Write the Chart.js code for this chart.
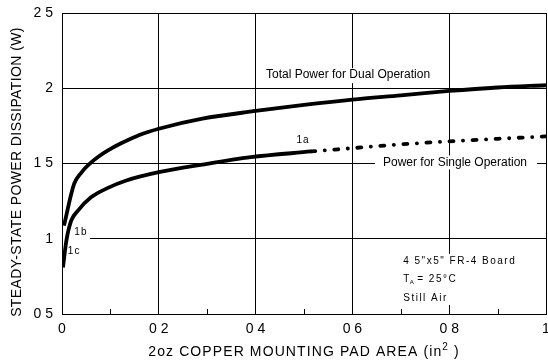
<!DOCTYPE html>
<html>
<head>
<meta charset="utf-8">
<style>
  html, body { margin: 0; padding: 0; background: #fff; }
  #wrap { width: 548px; height: 362px; }
</style>
<script src="https://cdn.jsdelivr.net/npm/chart.js@4/dist/chart.umd.min.js"></script>
</head>
<body>
<div id="wrap"><canvas id="c" width="548" height="362"></canvas></div>
<script>
// Copper pad area (in^2) and steady-state power dissipation (W)
const dualArea  = [0.004, 0.025, 0.04, 0.057, 0.075, 0.095, 0.12, 0.16, 0.2, 0.29, 0.4, 0.5, 0.6, 0.7, 0.8, 0.9, 1.0];
const dualPower = [1.087, 1.364, 1.44, 1.498, 1.545, 1.587, 1.631, 1.69, 1.731, 1.798, 1.849, 1.89, 1.925, 1.953, 1.982, 2.005, 2.02];

const singleArea  = [0.002, 0.009, 0.019, 0.033, 0.06, 0.095, 0.133, 0.2, 0.29, 0.39, 0.515];
const singlePower = [0.809, 0.987, 1.12, 1.187, 1.275, 1.338, 1.387, 1.442, 1.493, 1.542, 1.58];

const singleExtArea  = [0.515, 0.6, 0.7, 0.8, 0.9, 1.0];
const singleExtPower = [1.58, 1.602, 1.627, 1.647, 1.664, 1.68];

const xTicks = [0, 0.2, 0.4, 0.6, 0.8, 1];
const xTickLabels = ['0', '0 2', '0 4', '0 6', '0 8', '1'];
const xMinorTicks = [0.1, 0.3, 0.5, 0.7, 0.9];
const yTicks = [0.5, 1, 1.5, 2, 2.5];
const yTickLabels = ['0 5', '1', '1 5', '2', '2 5'];

const xTitle = '2oz COPPER MOUNTING PAD AREA (in';
const yTitle = 'STEADY-STATE POWER DISSIPATION (W)';
const dualLabel = 'Total Power for Dual Operation';
const singleLabel = 'Power for Single Operation';
const boardNotes = ['4 5"x5" FR-4 Board', '= 25\u00B0C', 'Still Air'];

const FONT = '"Liberation Sans", Arial, Helvetica, sans-serif';

const pts = (xs, ys) => xs.map((x, i) => ({ x: x, y: ys[i] }));
const labelFor = (vals, labels) => (value) => {
  const i = vals.findIndex(t => Math.abs(t - value) < 1e-9);
  return i >= 0 ? labels[i] : '';
};

function whiteBox(ctx, x0, y0, x1, y1) {
  ctx.fillStyle = '#fff';
  ctx.fillRect(x0, y0, x1 - x0, y1 - y0);
}

// Annotations, label backdrops, minor ticks and axis titles
const decorations = {
  id: 'decorations',
  beforeDatasetsDraw(chart) {
    const { ctx, scales: { x, y } } = chart;
    ctx.save();
    // backdrops that hide the grid behind the labels
    const dx = x.getPixelForValue(0.591), dy = y.getPixelForValue(2.087);
    whiteBox(ctx, dx - 88, dy - 7, dx + 88, dy + 8);
    const sx = x.getPixelForValue(0.812), sy = y.getPixelForValue(1.507);
    whiteBox(ctx, sx - 80, sy - 7, sx + 82, sy + 7);
    whiteBox(ctx, x.left + 1, y.getPixelForValue(1.03), x.getPixelForValue(0.058), y.getPixelForValue(0.97));
    const bx = x.getPixelForValue(0.705);
    whiteBox(ctx, bx - 4, y.getPixelForValue(0.9), bx + 120, y.getPixelForValue(0.56));
    // minor ticks along the bottom axis
    ctx.strokeStyle = '#000';
    ctx.lineWidth = 1;
    ctx.beginPath();
    xMinorTicks.forEach(v => {
      const px = Math.round(x.getPixelForValue(v)) + 0.5;
      ctx.moveTo(px, y.bottom);
      ctx.lineTo(px, y.bottom - 5);
    });
    ctx.stroke();
    ctx.restore();
  },
  afterDatasetsDraw(chart) {
    const { ctx, scales: { x, y } } = chart;
    ctx.save();
    ctx.fillStyle = '#000';
    ctx.textBaseline = 'middle';

    ctx.font = '12px ' + FONT;
    ctx.textAlign = 'center';
    ctx.fillText(dualLabel, x.getPixelForValue(0.591), y.getPixelForValue(2.087));
    ctx.fillText(singleLabel, x.getPixelForValue(0.812), y.getPixelForValue(1.507));

    ctx.font = '10px ' + FONT;
    ctx.letterSpacing = '1px';
    ctx.fillText('1a', x.getPixelForValue(0.498), y.getPixelForValue(1.653));
    ctx.fillText('1b', x.getPixelForValue(0.039), y.getPixelForValue(1.04));
    ctx.fillText('1c', x.getPixelForValue(0.025), y.getPixelForValue(0.92));

    // board conditions
    ctx.textAlign = 'left';
    ctx.letterSpacing = '1.5px';
    const bx = x.getPixelForValue(0.705);
    ctx.fillText(boardNotes[0], bx, y.getPixelForValue(0.853));
    const ty = y.getPixelForValue(0.733);
    ctx.fillText('T', bx, ty);
    const tw = ctx.measureText('T').width;
    ctx.font = '6px ' + FONT;
    ctx.letterSpacing = '0px';
    ctx.fillText('A', bx + tw - 1, ty + 3);
    ctx.font = '10px ' + FONT;
    ctx.letterSpacing = '1.5px';
    ctx.fillText(boardNotes[1], bx + 14, ty);
    ctx.fillText(boardNotes[2], bx, y.getPixelForValue(0.607));

    // x axis title with superscript
    ctx.font = '14px ' + FONT;
    ctx.letterSpacing = '1.1px';
    const w1 = ctx.measureText(xTitle).width;
    ctx.font = '10px ' + FONT;
    const w2 = ctx.measureText('2').width;
    ctx.font = '14px ' + FONT;
    const w3 = ctx.measureText(' )').width;
    const total = w1 + w2 + w3;
    let tx = (x.left + x.right) / 2 - total / 2;
    const titleY = 352;
    ctx.fillText(xTitle, tx, titleY);
    tx += w1;
    ctx.font = '10px ' + FONT;
    ctx.fillText('2', tx, titleY - 5);
    tx += w2;
    ctx.font = '14px ' + FONT;
    ctx.fillText(' )', tx, titleY);

    // y axis title
    ctx.translate(17, 172);
    ctx.rotate(-Math.PI / 2);
    ctx.textAlign = 'center';
    ctx.letterSpacing = '0.4px';
    ctx.fillText(yTitle, 0, 0);
    ctx.restore();
  }
};

const lineStyle = {
  borderColor: '#000',
  backgroundColor: '#000',
  borderWidth: 3.8,
  pointRadius: 0,
  fill: false,
  cubicInterpolationMode: 'monotone'
};

new Chart(document.getElementById('c'), {
  type: 'line',
  data: {
    datasets: [
      Object.assign({ label: 'Total Power for Dual Operation', data: pts(dualArea, dualPower) }, lineStyle),
      Object.assign({ label: 'Power for Single Operation', data: pts(singleArea, singlePower) }, lineStyle),
      Object.assign({ label: 'Power for Single Operation (extended)', data: pts(singleExtArea, singleExtPower),
        borderDash: [4, 9.5, 0.1, 9.5], borderCapStyle: 'round' }, lineStyle)
    ]
  },
  options: {
    responsive: false,
    animation: false,
    devicePixelRatio: 1,
    layout: { padding: { top: 13, right: 2, left: 0, bottom: 0 } },
    plugins: { legend: { display: false }, tooltip: { enabled: false } },
    scales: {
      x: {
        type: 'linear',
        min: 0, max: 1,
        afterBuildTicks: (s) => { s.ticks = xTicks.map(v => ({ value: v })); },
        afterFit: (s) => { s.height = 48; s.paddingLeft = 0; s.paddingRight = 0; },
        grid: { color: '#000', lineWidth: 1, drawTicks: false, tickLength: 0 },
        border: { display: true, color: '#000', width: 1 },
        ticks: {
          autoSkip: false, maxRotation: 0, padding: 7, color: '#000',
          font: { family: FONT, size: 14 },
          callback: labelFor(xTicks, xTickLabels)
        }
      },
      y: {
        type: 'linear',
        min: 0.5, max: 2.5,
        afterBuildTicks: (s) => { s.ticks = yTicks.map(v => ({ value: v })); },
        afterFit: (s) => { s.width = 62; s.paddingTop = 0; s.paddingBottom = 0; },
        grid: { color: '#000', lineWidth: 1, drawTicks: false, tickLength: 0 },
        border: { display: true, color: '#000', width: 1 },
        ticks: {
          autoSkip: false, padding: 9, color: '#000',
          font: { family: FONT, size: 14 },
          callback: labelFor(yTicks, yTickLabels)
        }
      }
    }
  },
  plugins: [decorations]
});
</script>
</body>
</html>
